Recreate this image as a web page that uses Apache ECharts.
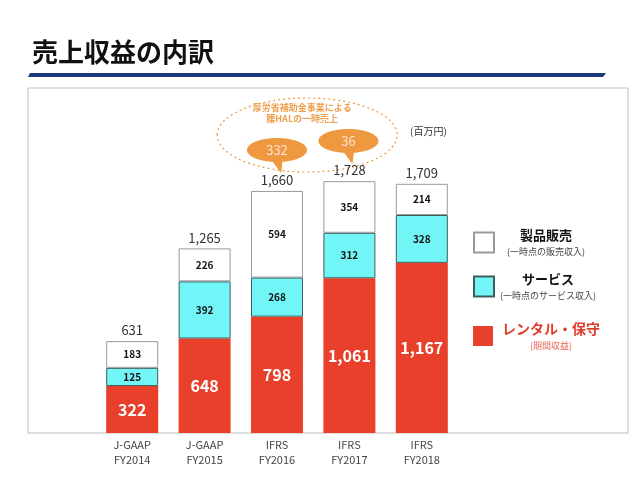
<!DOCTYPE html>
<html>
<head>
<meta charset="utf-8">
<script src="https://cdn.jsdelivr.net/npm/echarts@6/dist/echarts.min.js"></script>
<style>
  html, body { margin: 0; padding: 0; background: #fff; }
  #main { width: 640px; height: 480px; }
</style>
</head>
<body>
<div id="main"></div>
<script>
// 年度（カテゴリ）
var categories = ['J-GAAP\nFY2014', 'J-GAAP\nFY2015', 'IFRS\nFY2016', 'IFRS\nFY2017', 'IFRS\nFY2018'];
// レンタル・保守（期間収益）
var rentalData = [322, 648, 798, 1061, 1167];
// サービス（一時点のサービス収入）
var serviceData = [125, 392, 268, 312, 328];
// 製品販売（一時点の販売収入）
var productData = [183, 226, 594, 354, 214];
// 合計
var totalData = [631, 1265, 1660, 1728, 1709];
// 厚労省補助金事業による一時売上（FY2016, FY2017）
var halIndex = [2, 3];
var halData = [332, 36];

var font = '"Noto Sans CJK JP", "Noto Sans", sans-serif';

function fmt(v) {
    return String(v).replace(/\B(?=(\d{3})+(?!\d))/g, ',');
}

var main = document.getElementById('main');
var chart = echarts.init(main);

function legendItem(name, top, titleColor, subColor, titleSize, w) {
    return {
        data: [name],
        left: 468,
        top: top,
        orient: 'vertical',
        itemWidth: 20,
        itemHeight: 20,
        itemGap: 0,
        selectedMode: false,
        icon: 'rect',
        formatter: function (n) {
            var sub = {
                '製品販売': '(一時点の販売収入)',
                'サービス': '(一時点のサービス収入)',
                'レンタル・保守': '(期間収益)'
            }[n];
            return '{t|' + n + '}\n{s|' + sub + '}';
        },
        textStyle: {
            rich: {
                t: {
                    fontFamily: font, fontSize: titleSize, fontWeight: 'bold',
                    color: titleColor, width: w, align: 'center', lineHeight: 19
                },
                s: {
                    fontFamily: font, fontSize: 9, color: subColor,
                    width: w, align: 'center', lineHeight: 14
                }
            }
        }
    };
}

var option = {
    animation: false,
    title: {
        text: '売上収益の内訳',
        left: 27,
        top: 34,
        textStyle: { fontFamily: font, fontSize: 26, fontWeight: 'bold', color: '#111' }
    },
    legend: [
        legendItem('製品販売', 224, '#111', '#444', 13, 94),
        legendItem('サービス', 268, '#111', '#444', 13, 98),
        legendItem('レンタル・保守', 317, '#e23c28', '#e86a58', 14, 106)
    ],
    grid: { left: 96, right: 182, top: 88, bottom: 47 },
    xAxis: {
        type: 'category',
        data: categories,
        axisTick: { show: false },
        axisLine: { show: false },
        axisLabel: {
            fontFamily: font, fontSize: 11, color: '#444',
            lineHeight: 15, margin: 4
        }
    },
    yAxis: {
        type: 'value',
        min: 0,
        max: 2366,
        show: false
    },
    series: [
        {
            name: 'レンタル・保守',
            type: 'bar',
            stack: 'total',
            barWidth: 52,
            barGap: '-100%',
            data: rentalData,
            itemStyle: { color: '#e8402a' },
            label: {
                show: true, position: 'inside', color: '#fff',
                fontFamily: font, fontSize: 16, fontWeight: 'bold',
                formatter: function (p) { return fmt(p.value); }
            }
        },
        {
            name: 'サービス',
            type: 'bar',
            stack: 'total',
            barWidth: 52,
            data: serviceData,
            itemStyle: { color: '#72f5f6', borderColor: '#3e5c5c', borderWidth: 1 },
            label: {
                show: true, position: 'inside', color: '#111',
                fontFamily: font, fontSize: 10, fontWeight: 'bold'
            }
        },
        {
            name: '製品販売',
            type: 'bar',
            stack: 'total',
            barWidth: 52,
            data: productData,
            itemStyle: { color: '#fff', borderColor: '#999', borderWidth: 1 },
            label: {
                show: true, position: 'inside', color: '#111',
                fontFamily: font, fontSize: 10, fontWeight: 'bold'
            }
        },
        {
            name: '合計',
            type: 'bar',
            barWidth: 52,
            barGap: '-100%',
            data: totalData,
            silent: true,
            z: 1,
            itemStyle: { color: 'rgba(0,0,0,0)' },
            label: {
                show: true, position: 'top', distance: 4, color: '#333',
                fontFamily: font, fontSize: 13,
                formatter: function (p) { return fmt(p.value); }
            }
        }
    ]
};

chart.setOption(option);

// 枠・タイトル下線・吹き出し
function drawDecor() {
    var p0 = chart.convertToPixel({ seriesIndex: 0 }, [halIndex[0], totalData[halIndex[0]]]);
    var p1 = chart.convertToPixel({ seriesIndex: 0 }, [halIndex[1], totalData[halIndex[1]]]);
    var orange = '#ee983f';
    var els = [
        {
            type: 'rect', silent: true, z: -1,
            shape: { x: 28, y: 88, width: 600, height: 345 },
            style: { fill: 'none', stroke: '#bdbdbd', lineWidth: 1 }
        },
        {
            type: 'polygon', silent: true,
            shape: { points: [[30, 73], [606, 73], [603, 77], [28, 77]] },
            style: { fill: '#1d3a7a' }
        },
        {
            type: 'text', silent: true,
            left: 410, top: 126,
            style: { text: '(百万円)', fontFamily: font, fontSize: 10, fill: '#333' }
        },
        {
            type: 'ellipse', silent: true,
            shape: { cx: (p0[0] + p1[0]) / 2 - 6, cy: 135, rx: 90, ry: 37 },
            style: { fill: 'none', stroke: orange, lineWidth: 1.2, lineDash: [2, 3] }
        },
        {
            type: 'text', silent: true,
            x: (p0[0] + p1[0]) / 2 - 11, y: 113,
            style: {
                text: '厚労省補助金事業による\n腰HALの一時売上',
                fontFamily: font, fontSize: 9, fontWeight: 'bold', fill: '#efa04f',
                align: 'center', verticalAlign: 'middle', lineHeight: 11
            }
        }
    ];
    var pts = [p0, p1];
    var offs = [[0, 41], [-1, 40]];
    for (var i = 0; i < halData.length; i++) {
        var cx = pts[i][0] + offs[i][0];
        var cy = pts[i][1] - offs[i][1];
        els.push({
            type: 'polygon', silent: true,
            shape: { points: [[cx - 7, cy + 8], [cx + 6, cy + 8], [cx + 4, cy + 23]] },
            style: { fill: orange }
        });
        els.push({
            type: 'ellipse', silent: true,
            shape: { cx: cx, cy: cy, rx: 30, ry: 12 },
            style: { fill: orange }
        });
        els.push({
            type: 'text', silent: true,
            x: cx, y: cy,
            style: {
                text: String(halData[i]), fontFamily: font, fontSize: 13,
                fill: '#fde3d3', align: 'center', verticalAlign: 'middle'
            }
        });
    }
    chart.setOption({ graphic: els });
}
drawDecor();
</script>
</body>
</html>
